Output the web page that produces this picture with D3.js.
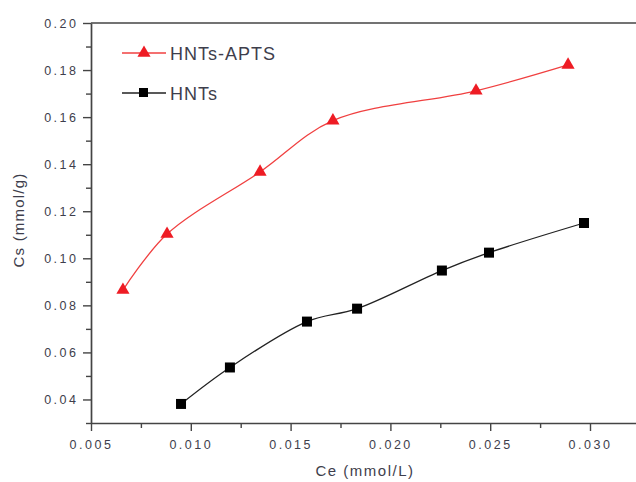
<!DOCTYPE html>
<html>
<head>
<meta charset="utf-8">
<script src="https://cdn.jsdelivr.net/npm/d3@7"></script>
<style>
  body { margin: 0; background: #fff; }
  text { font-family: Arial, "Liberation Sans", sans-serif; }
</style>
</head>
<body>
<div id="chart"></div>
<script>
const apts_ce = [0.0066, 0.00881, 0.01347, 0.01712, 0.02429, 0.0289];
const apts_cs = [0.0865, 0.1103, 0.1367, 0.1585, 0.1712, 0.1822];
const hnts_ce = [0.00951, 0.01196, 0.01582, 0.01833, 0.02258, 0.02494, 0.0297];
const hnts_cs = [0.0381, 0.0536, 0.0731, 0.0786, 0.0948, 0.1024, 0.1150];
const xTicks = [0.005, 0.010, 0.015, 0.020, 0.025, 0.030];
const yTicks = [0.04, 0.06, 0.08, 0.10, 0.12, 0.14, 0.16, 0.18, 0.20];

const W = 636, H = 482;
const margin = { top: 23, right: 0, bottom: 59, left: 91 };
const width = W - margin.left - margin.right;
const height = H - margin.top - margin.bottom;

const svg = d3.select('#chart').append('svg')
  .attr('width', W).attr('height', H);

const g = svg.append('g')
  .attr('transform', `translate(${margin.left},${margin.top})`);

const x = d3.scaleLinear().domain([0.005, 0.005 + width / 19960]).range([0, width]);
const y = d3.scaleLinear().domain([0.03, 0.20]).range([height, 0]);

const axisColor = '#444';
const labelColor = '#3e3e4c';

// minor ticks
const xMinor = d3.range(0.0075, 0.0325, 0.005);
const yMinor = d3.range(0.03, 0.2, 0.02);

g.append('g')
  .attr('transform', `translate(0,${height})`)
  .call(d3.axisBottom(x).tickValues(xMinor).tickSize(5).tickFormat(''))
  .call(a => a.select('.domain').remove())
  .selectAll('line').attr('stroke', axisColor).attr('stroke-width', 1.4);

g.append('g')
  .call(d3.axisLeft(y).tickValues(yMinor).tickSize(5).tickFormat(''))
  .call(a => a.select('.domain').remove())
  .selectAll('line').attr('stroke', axisColor).attr('stroke-width', 1.4);

const xAxis = g.append('g')
  .attr('transform', `translate(0,${height})`)
  .call(d3.axisBottom(x).tickValues(xTicks).tickSize(8).tickPadding(9).tickSizeOuter(0)
    .tickFormat(d3.format('.3f')));

const yAxis = g.append('g')
  .call(d3.axisLeft(y).tickValues(yTicks).tickSize(8).tickPadding(4.5).tickSizeOuter(0)
    .tickFormat(d3.format('.2f')));

[xAxis, yAxis].forEach(a => {
  a.select('.domain').attr('stroke', axisColor).attr('stroke-width', 1.7);
  a.selectAll('line').attr('stroke', axisColor).attr('stroke-width', 1.4);
  a.selectAll('text')
    .attr('fill', labelColor)
    .attr('font-size', 12.5)
    .attr('letter-spacing', 2.5);
});

// top frame
g.append('line')
  .attr('x1', 0).attr('x2', width).attr('y1', 0).attr('y2', 0)
  .attr('stroke', axisColor).attr('stroke-width', 1.7);

svg.append('text')
  .attr('x', 365)
  .attr('y', 476)
  .attr('text-anchor', 'middle')
  .attr('font-size', 15)
  .attr('letter-spacing', 1.5)
  .attr('fill', labelColor)
  .text('Ce (mmol/L)');

svg.append('text')
  .attr('transform', `translate(24,220) rotate(-90)`)
  .attr('text-anchor', 'middle')
  .attr('font-size', 15)
  .attr('letter-spacing', 1.2)
  .attr('fill', labelColor)
  .text('Cs (mmol/g)');

const line = d3.line()
  .x(d => x(d[0])).y(d => y(d[1]))
  .curve(d3.curveCatmullRom.alpha(0.5));

const aptsData = apts_ce.map((c, i) => [c, apts_cs[i]]);
const hntsData = hnts_ce.map((c, i) => [c, hnts_cs[i]]);

const red = '#ee1c24';

g.append('path')
  .datum(aptsData)
  .attr('d', line)
  .attr('fill', 'none')
  .attr('stroke', '#f04040')
  .attr('stroke-width', 1.3);

g.append('path')
  .datum(hntsData)
  .attr('d', line)
  .attr('fill', 'none')
  .attr('stroke', '#222')
  .attr('stroke-width', 1.3);

const tri = d3.symbol().type(d3.symbolTriangle).size(75);

g.selectAll('.tri')
  .data(aptsData)
  .join('path')
  .attr('class', 'tri')
  .attr('transform', d => `translate(${x(d[0])},${y(d[1])})`)
  .attr('d', tri)
  .attr('fill', red);

g.selectAll('.sq')
  .data(hntsData)
  .join('rect')
  .attr('class', 'sq')
  .attr('x', d => x(d[0]) - 5)
  .attr('y', d => y(d[1]) - 5)
  .attr('width', 10)
  .attr('height', 10)
  .attr('fill', '#000');

// legend
const legend = svg.append('g');
const items = [
  { label: 'HNTs-APTS', color: '#f04040', mark: 'tri', y: 53 },
  { label: 'HNTs', color: '#222', mark: 'sq', y: 93 }
];
items.forEach(it => {
  legend.append('line')
    .attr('x1', 122).attr('x2', 166).attr('y1', it.y).attr('y2', it.y)
    .attr('stroke', it.color).attr('stroke-width', 1.3);
  if (it.mark === 'tri') {
    legend.append('path')
      .attr('transform', `translate(144,${it.y})`)
      .attr('d', tri).attr('fill', red);
  } else {
    legend.append('rect')
      .attr('x', 139).attr('y', it.y - 5).attr('width', 9).attr('height', 9)
      .attr('fill', '#000');
  }
  legend.append('text')
    .attr('x', 170).attr('y', it.y + 7)
    .attr('font-size', 18)
    .attr('letter-spacing', 1)
    .attr('fill', labelColor)
    .text(it.label);
});
</script>
</body>
</html>
